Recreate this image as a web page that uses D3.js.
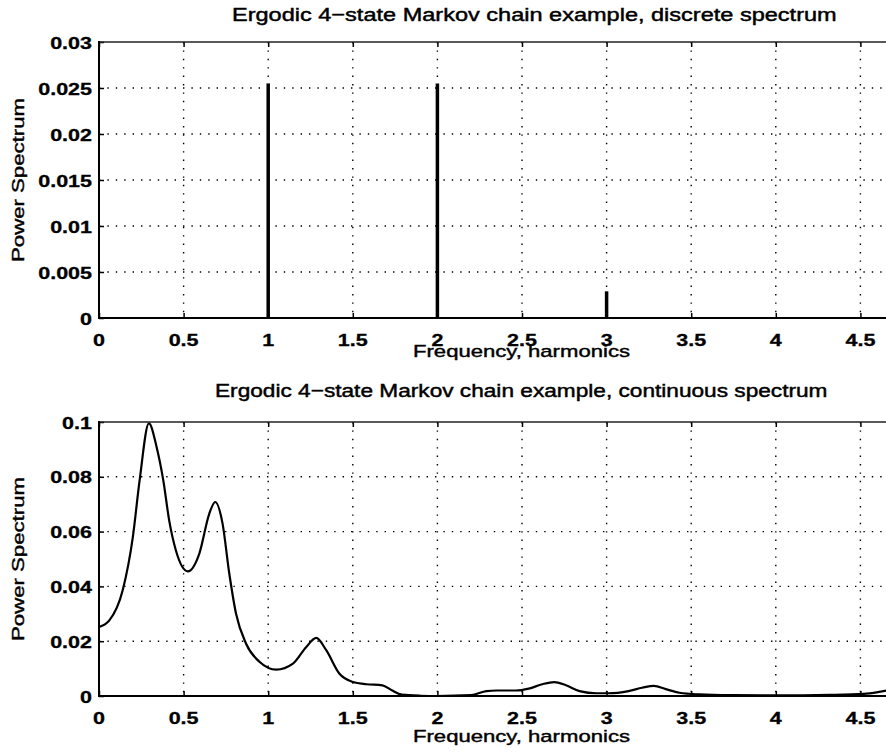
<!DOCTYPE html>
<html>
<head>
<meta charset="utf-8">
<script src="https://cdn.jsdelivr.net/npm/d3@7"></script>
<style>
  html, body { margin: 0; padding: 0; background: #fff; }
  svg { display: block; }
  text { font-family: "Liberation Sans", Arial, Helvetica, sans-serif; fill: #000; }
</style>
</head>
<body>
<svg id="chart" width="886" height="753"></svg>
<script>
// ---------- data ----------
const xTicks = [0, 0.5, 1, 1.5, 2, 2.5, 3, 3.5, 4, 4.5];
const yTicksTop = [0, 0.005, 0.01, 0.015, 0.02, 0.025, 0.03];
const yTicksBottom = [0, 0.02, 0.04, 0.06, 0.08, 0.1];

const discreteFreq  = [1, 2, 3];
const discretePower = [0.0255, 0.0255, 0.0029];

const contFreq = [0, 0.06, 0.14, 0.2, 0.24, 0.295, 0.34, 0.38, 0.415, 0.455, 0.525, 0.593, 0.652, 0.687,
  0.73, 0.77, 0.81, 0.87, 0.95, 1.048, 1.146, 1.225, 1.284, 1.343, 1.42, 1.5, 1.58, 1.675, 1.73, 1.79,
  1.9, 2.0, 2.2, 2.29, 2.35, 2.465, 2.54, 2.62, 2.69, 2.76, 2.84, 2.94, 3.01, 3.13, 3.21, 3.28, 3.35,
  3.43, 3.55, 3.75, 4.0, 4.32, 4.52, 4.61, 4.7];
const contPower = [0.0252, 0.0275, 0.0386, 0.058, 0.0787, 0.0995, 0.091, 0.0787, 0.064, 0.053, 0.0455, 0.052, 0.0666, 0.0708,
  0.063, 0.0447, 0.030, 0.019, 0.0124, 0.0096, 0.0118, 0.0179, 0.0212, 0.0167, 0.0082, 0.0051, 0.0043, 0.0039, 0.0021, 0.0005,
  0.0001, 0.0, 0.0003, 0.0018, 0.002, 0.002, 0.0027, 0.0043, 0.0051, 0.0039, 0.0018, 0.001, 0.001, 0.0018, 0.003, 0.0037, 0.0025,
  0.0012, 0.0006, 0.0003, 0.0002, 0.0004, 0.0008, 0.0015, 0.0025];

const titleTop = "Ergodic 4\u2212state Markov chain example, discrete spectrum";
const titleBottom = "Ergodic 4\u2212state Markov chain example, continuous spectrum";
const xLabelText = "Frequency, harmonics";
const yLabelText = "Power Spectrum";

// ---------- layout ----------
const svg = d3.select("#chart");
const left = 99, right = 945;
const x = d3.scaleLinear().domain([0, 5]).range([left, right]);

const panels = [
  { top: 42, bottom: 318, domain: [0, 0.03], ticks: yTicksTop, fmt: d => d === 0 ? "0" : String(+d.toFixed(3)),
    title: titleTop, titleX: 232, titleW: 605, titleY: 21, xlabY: 357 },
  { top: 422, bottom: 696, domain: [0, 0.1], ticks: yTicksBottom, fmt: d => d === 0 ? "0" : String(+d.toFixed(2)),
    title: titleBottom, titleX: 215, titleW: 613, titleY: 397, xlabY: 742 }
];

function stretchedText(g, str, opts) {
  const t = g.append("text")
    .text(str)
    .attr("font-size", opts.size)
    .attr("font-weight", opts.weight || "normal")
    .attr("text-anchor", opts.anchor || "start")
    .attr("stroke", "#000")
    .attr("stroke-width", opts.stroke || 0.35);
  let sx = opts.sx || 1;
  if (opts.width) {
    const w = t.node().getComputedTextLength();
    sx = opts.width / w;
  }
  t.attr("transform", `translate(${opts.x},${opts.y}) rotate(${opts.rotate || 0}) scale(${sx},1)`);
  return t;
}

panels.forEach((p, i) => {
  const y = d3.scaleLinear().domain(p.domain).range([p.bottom, p.top]);
  const g = svg.append("g");

  // grid
  const grid = g.append("g").attr("stroke", "#000").attr("stroke-width", 1.4)
    .attr("stroke-dasharray", "1.4,7").attr("fill", "none");
  xTicks.filter(d => d > 0).forEach(d => {
    grid.append("line").attr("x1", x(d)).attr("x2", x(d)).attr("y1", p.top).attr("y2", p.bottom);
  });
  p.ticks.filter(d => d > 0 && d < p.domain[1]).forEach(d => {
    grid.append("line").attr("x1", left).attr("x2", right).attr("y1", y(d)).attr("y2", y(d));
  });

  // axes via d3 (inward ticks)
  const xAxisB = d3.axisBottom(x).tickValues(xTicks).tickSize(-5).tickFormat("");
  const xAxisT = d3.axisTop(x).tickValues(xTicks).tickSize(-5).tickFormat("");
  const yAxisL = d3.axisLeft(y).tickValues(p.ticks).tickSize(-5).tickFormat("");
  [["b", xAxisB, `translate(0,${p.bottom})`], ["t", xAxisT, `translate(0,${p.top})`],
   ["l", yAxisL, `translate(${left},0)`]].forEach(([k, ax, tr]) => {
    const a = g.append("g").attr("transform", tr).call(ax);
    a.select(".domain").remove();
    a.selectAll(".tick line").attr("stroke", "#000").attr("stroke-width", 1.5);
  });

  // box
  g.append("line").attr("x1", left).attr("x2", right).attr("y1", p.top).attr("y2", p.top)
    .attr("stroke", "#222").attr("stroke-width", 1.6);
  g.append("line").attr("x1", left).attr("x2", right).attr("y1", p.bottom).attr("y2", p.bottom)
    .attr("stroke", "#000").attr("stroke-width", 2);
  g.append("line").attr("x1", left).attr("x2", left).attr("y1", p.top - 1).attr("y2", p.bottom + 1)
    .attr("stroke", "#000").attr("stroke-width", 2);

  // data
  if (i === 0) {
    g.append("line").attr("x1", x(0)).attr("x2", x(4.7)).attr("y1", y(0)).attr("y2", y(0))
      .attr("stroke", "#000").attr("stroke-width", 2);
    discreteFreq.forEach((f, k) => {
      g.append("line").attr("x1", x(f)).attr("x2", x(f)).attr("y1", y(0)).attr("y2", y(discretePower[k]))
        .attr("stroke", "#000").attr("stroke-width", 3.5);
    });
  } else {
    const pts = contFreq.map((f, k) => [f, contPower[k]]);
    g.append("path").datum(pts)
      .attr("fill", "none").attr("stroke", "#000").attr("stroke-width", 2.2).attr("stroke-linejoin", "round")
      .attr("d", d3.line().x(d => x(d[0])).y(d => y(d[1])).curve(d3.curveMonotoneX));
  }

  // tick labels
  p.ticks.forEach(d => {
    stretchedText(g, p.fmt(d), { x: 92, y: y(d) + 6.5, size: 16.8, weight: "bold", anchor: "end", sx: 1.28, stroke: 0.3 });
  });
  xTicks.forEach(d => {
    stretchedText(g, String(d), { x: x(d), y: p.bottom + 27.5, size: 16.8, weight: "bold", anchor: "middle", sx: 1.28, stroke: 0.3 });
  });

  // titles & labels
  stretchedText(g, p.title, { x: p.titleX, y: p.titleY, size: 18.5, anchor: "start", width: p.titleW, stroke: 0.45 });
  stretchedText(g, xLabelText, { x: 413, y: p.xlabY, size: 16.5, anchor: "start", width: 217, stroke: 0.4 });
  stretchedText(g, yLabelText, { x: 24, y: (p.top + p.bottom) / 2, size: 16.5, anchor: "middle", rotate: -90, width: 164, stroke: 0.4 });
});
</script>
</body>
</html>
